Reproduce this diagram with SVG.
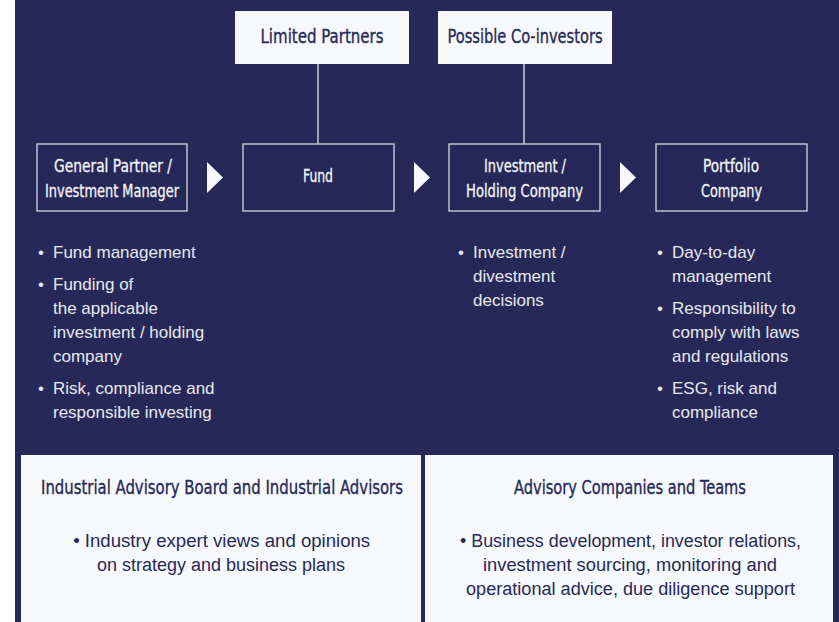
<svg xmlns="http://www.w3.org/2000/svg" width="839" height="622" viewBox="0 0 839 622">
<style>
.cond{font-family:"Liberation Sans Narrow","DejaVu Sans Condensed","Liberation Sans",sans-serif;}
.top{font-size:20px;fill:#262a58;stroke:#262a58;stroke-width:0.35;text-anchor:middle;}
.row{font-size:18px;fill:#f4f5f9;stroke:#f4f5f9;stroke-width:0.3;text-anchor:middle;}
.bl{font-family:"Liberation Sans",Arial,sans-serif;font-size:17px;fill:#e6e8f0;}
.pt{font-size:20px;fill:#262a58;stroke:#262a58;stroke-width:0.35;text-anchor:middle;}
.pb{font-family:"Liberation Sans",Arial,sans-serif;font-size:18px;fill:#262a58;text-anchor:middle;}
.box{fill:none;stroke:#c9cbd8;stroke-width:1.4;}
.lbox{fill:#f7f8fb;}
.con{stroke:#c9cbd8;stroke-width:1.5;fill:none;}
.tri{fill:#f7f8fb;}
</style>
<rect x="0" y="0" width="839" height="622" fill="#ffffff"/>
<rect x="15" y="0" width="824" height="622" fill="#262958"/>
<g id="connectors">
<line class="con" x1="318" y1="64" x2="318" y2="144"/>
<line class="con" x1="524" y1="64" x2="524" y2="144"/>
<polygon class="tri" points="207,162 223,177.5 207,193"/>
<polygon class="tri" points="414,162 430,177.5 414,193"/>
<polygon class="tri" points="620,162 636,177.5 620,193"/>
</g>
<g id="limited-partners">
<rect class="lbox" x="235" y="11" width="174" height="53"/>
<text class="cond top" x="322" y="43" textLength="123" lengthAdjust="spacingAndGlyphs">Limited Partners</text>
</g>
<g id="co-investors">
<rect class="lbox" x="438" y="11" width="174" height="53"/>
<text class="cond top" x="525" y="43" textLength="155" lengthAdjust="spacingAndGlyphs">Possible Co-investors</text>
</g>
<g id="general-partner">
<rect class="box" x="37" y="144" width="150" height="67"/>
<text class="cond row" x="113" y="172" textLength="118" lengthAdjust="spacingAndGlyphs">General Partner /</text>
<text class="cond row" x="112" y="197" textLength="134" lengthAdjust="spacingAndGlyphs">Investment Manager</text>
</g>
<g id="fund">
<rect class="box" x="243" y="144" width="151" height="67"/>
<text class="cond row" x="318" y="182" textLength="30" lengthAdjust="spacingAndGlyphs">Fund</text>
</g>
<g id="holding">
<rect class="box" x="449" y="144" width="151" height="67"/>
<text class="cond row" x="525" y="172" textLength="82" lengthAdjust="spacingAndGlyphs">Investment /</text>
<text class="cond row" x="524.5" y="197" textLength="117" lengthAdjust="spacingAndGlyphs">Holding Company</text>
</g>
<g id="portfolio">
<rect class="box" x="656" y="144" width="151" height="67"/>
<text class="cond row" x="731" y="172" textLength="56" lengthAdjust="spacingAndGlyphs">Portfolio</text>
<text class="cond row" x="731.5" y="197" textLength="61" lengthAdjust="spacingAndGlyphs">Company</text>
</g>
<g id="gp-bullets" class="bl">
<text x="38" y="258">•</text><text x="53" y="258">Fund management</text>
<text x="38" y="290">•</text><text x="53" y="290">Funding of</text>
<text x="53" y="314">the applicable</text>
<text x="53" y="338">investment / holding</text>
<text x="53" y="362">company</text>
<text x="38" y="394">•</text><text x="53" y="394">Risk, compliance and</text>
<text x="53" y="418">responsible investing</text>
</g>
<g id="holding-bullets" class="bl">
<text x="458" y="258">•</text><text x="473" y="258">Investment /</text>
<text x="473" y="282">divestment</text>
<text x="473" y="306">decisions</text>
</g>
<g id="portfolio-bullets" class="bl">
<text x="657" y="258">•</text><text x="672" y="258">Day-to-day</text>
<text x="672" y="282">management</text>
<text x="657" y="314">•</text><text x="672" y="314">Responsibility to</text>
<text x="672" y="338">comply with laws</text>
<text x="672" y="362">and regulations</text>
<text x="657" y="394">•</text><text x="672" y="394">ESG, risk and</text>
<text x="672" y="418">compliance</text>
</g>
<g id="industrial-advisory">
<rect class="lbox" x="21" y="455" width="400" height="167"/>
<text class="cond pt" x="222" y="494" textLength="362" lengthAdjust="spacingAndGlyphs">Industrial Advisory Board and Industrial Advisors</text>
<text class="pb" x="221.7" y="547" textLength="297" lengthAdjust="spacingAndGlyphs">• Industry expert views and opinions</text>
<text class="pb" x="221" y="571" textLength="248" lengthAdjust="spacingAndGlyphs">on strategy and business plans</text>
</g>
<g id="advisory-companies">
<rect class="lbox" x="425" y="455" width="408" height="167"/>
<text class="cond pt" x="630" y="494" textLength="232" lengthAdjust="spacingAndGlyphs">Advisory Companies and Teams</text>
<text class="pb" x="630.5" y="547" textLength="341" lengthAdjust="spacingAndGlyphs">• Business development, investor relations,</text>
<text class="pb" x="630" y="571" textLength="294" lengthAdjust="spacingAndGlyphs">investment sourcing, monitoring and</text>
<text class="pb" x="630.5" y="595" textLength="329" lengthAdjust="spacingAndGlyphs">operational advice, due diligence support</text>
</g>
</svg>
